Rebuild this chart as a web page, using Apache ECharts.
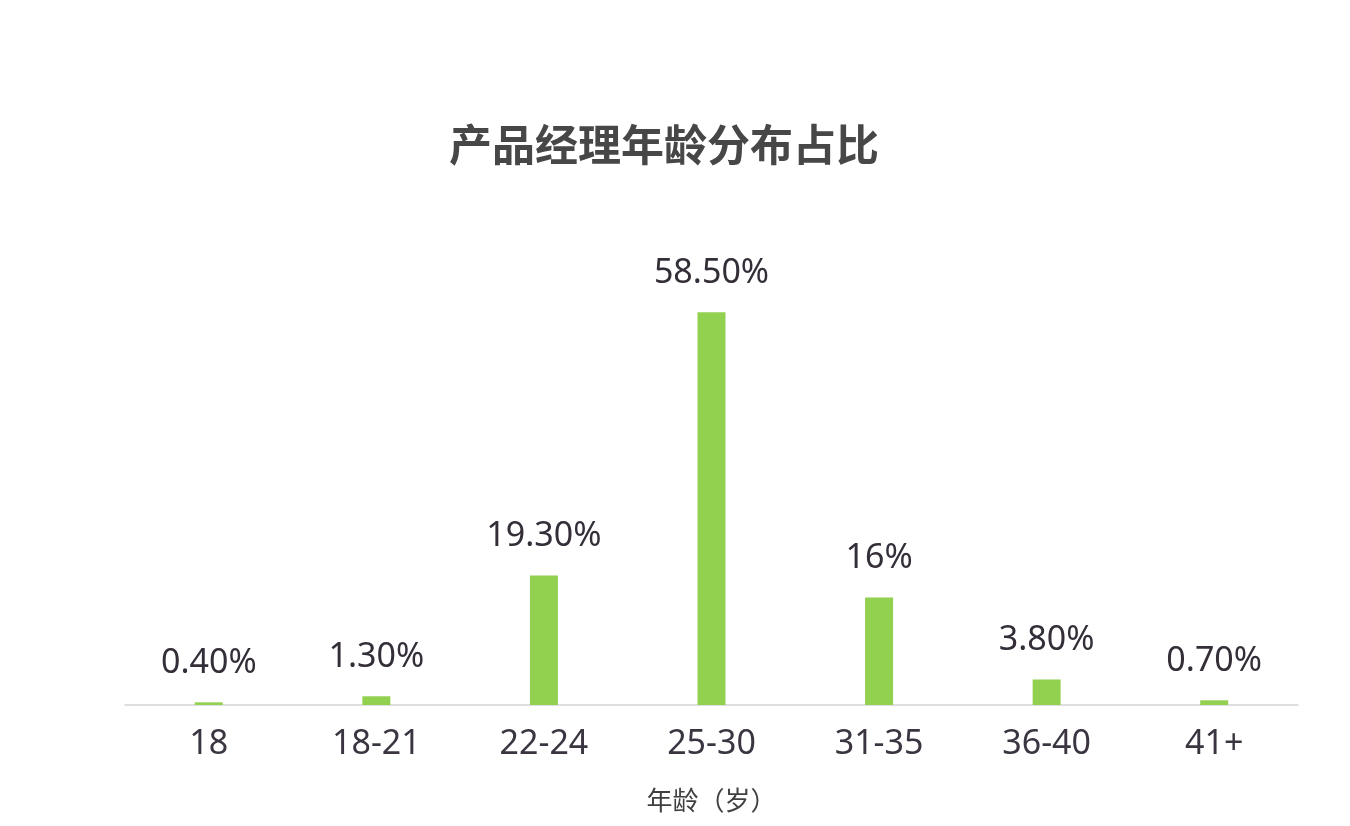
<!DOCTYPE html>
<html>
<head>
<meta charset="utf-8">
<style>
  html, body { margin: 0; padding: 0; background: #fff; }
  #chart { width: 1350px; height: 826px; }
</style>
<script src="https://cdn.jsdelivr.net/npm/echarts@6/dist/echarts.min.js"></script>
</head>
<body>
<div id="chart"></div>
<script>
const ageGroups = ['18', '18-21', '22-24', '25-30', '31-35', '36-40', '41+'];
const shares = [0.4, 1.3, 19.3, 58.5, 16, 3.8, 0.7];
const shareLabels = ['0.40%', '1.30%', '19.30%', '58.50%', '16%', '3.80%', '0.70%'];

const chart = echarts.init(document.getElementById('chart'));

const font = '"Noto Sans", "Noto Sans CJK SC", sans-serif';

chart.setOption({
    backgroundColor: '#fff',
    title: {
        text: '产品经理年龄分布占比',
        left: 444,
        top: 118,
        textStyle: {
            fontFamily: '"Noto Sans CJK SC", sans-serif',
            fontSize: 43,
            fontWeight: 'bold',
            color: '#474747'
        }
    },
    grid: {
        left: 125,
        right: 52,
        top: 235,
        bottom: 121
    },
    xAxis: {
        type: 'category',
        data: ageGroups,
        name: '年龄（岁）',
        nameLocation: 'middle',
        nameGap: 82,
        nameTextStyle: {
            fontFamily: '"Noto Sans CJK SC", sans-serif',
            fontSize: 26,
            color: '#404040'
        },
        axisLine: { lineStyle: { color: '#d4d4d4', width: 1.5 } },
        axisTick: { show: false },
        axisLabel: {
            margin: 22,
            fontFamily: font,
            fontSize: 34,
            color: '#3a3540'
        }
    },
    yAxis: {
        type: 'value',
        min: 0,
        max: 70,
        show: false,
        splitLine: { show: false }
    },
    series: [{
        type: 'bar',
        data: shares,
        barWidth: 28,
        itemStyle: { color: '#92d050' },
        label: {
            show: true,
            position: 'top',
            distance: 22,
            formatter: function (p) { return shareLabels[p.dataIndex]; },
            fontFamily: font,
            fontSize: 34,
            color: '#332e38'
        }
    }]
});
</script>
</body>
</html>
